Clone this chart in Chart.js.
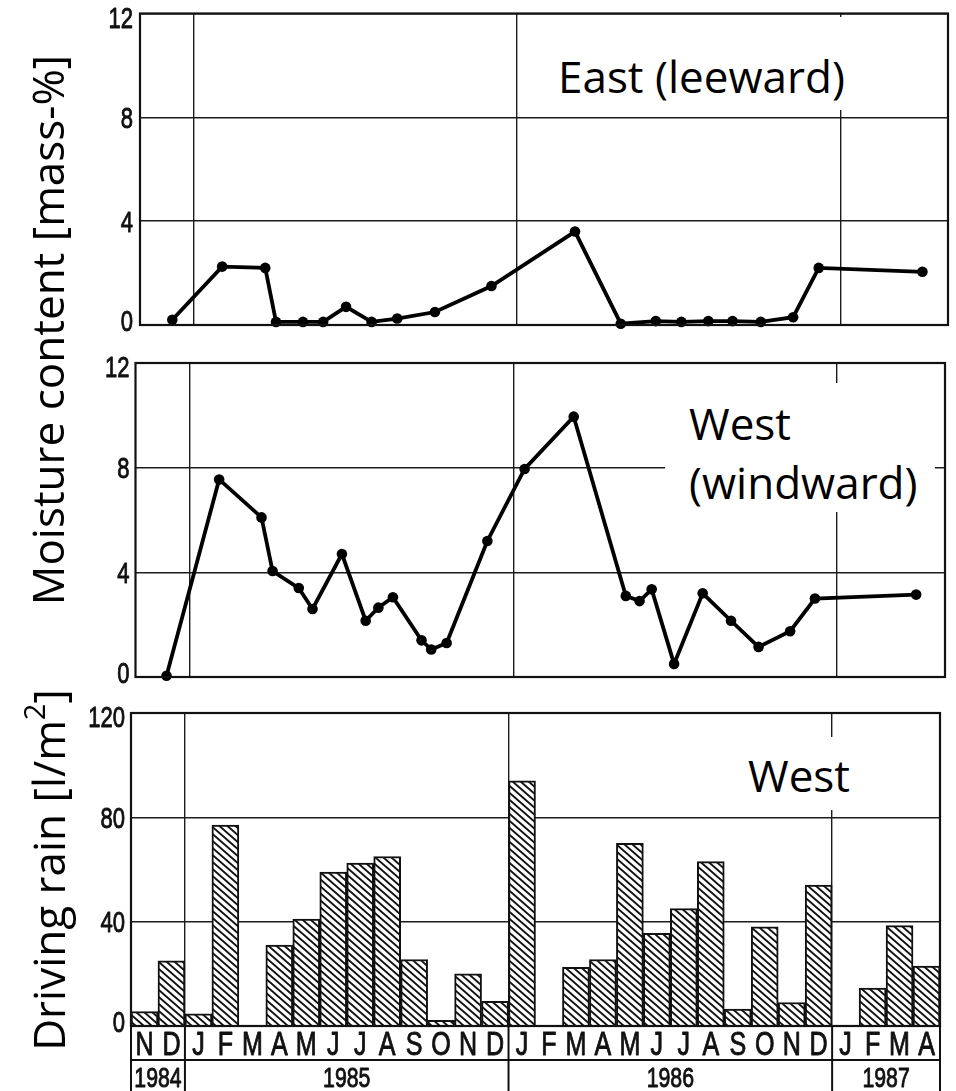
<!DOCTYPE html>
<html lang="en">
<head>
<meta charset="UTF-8" />
<title>Moisture content and driving rain</title>
<script src="https://cdn.jsdelivr.net/npm/chart.js@4/dist/chart.umd.min.js"></script>
<style>
  * { box-sizing: border-box; margin: 0; padding: 0; }
  body { background: #fff; width: 956px; height: 1091px; overflow: hidden; position: relative; }
  canvas { position: absolute; left: 0; }
  #east { top: -10px; }
  #west { top: 330px; }
  #rain { top: 690px; }
  .ytitle {
    position: absolute;
    transform: translate(-50%, -50%) rotate(-90deg);
    white-space: nowrap;
    font: 44px/1 "Open Sans", sans-serif;
    color: #000;
  }
  .ytitle sup { font-size: 29px; position: relative; top: -20px; vertical-align: 0; line-height: 0; }
  .mask { position: absolute; background: #fff; }
  .label { position: absolute; font: 44px/1 "Open Sans", sans-serif; color: #000; white-space: nowrap; }
</style>
</head>
<body>
  <canvas id="east" width="956" height="360"></canvas>
  <canvas id="west" width="956" height="370"></canvas>
  <canvas id="rain" width="956" height="401"></canvas>

  <div class="ytitle" style="left:47px; top:330px;">Moisture content [mass-%]</div>
  <div class="ytitle" style="left:48px; top:870px;">Driving rain [l/m<sup>2</sup>]</div>

  <div class="mask" style="left:545px; top:17px; width:317px; height:93px;"></div>
  <div class="label" style="left:558px; top:54px;">East (leeward)</div>

  <div class="mask" style="left:665px; top:383px; width:270px; height:129px;"></div>
  <div class="label" style="left:689px; top:394px; line-height:59px;">West<br>(windward)</div>

  <div class="mask" style="left:735px; top:737px; width:190px; height:73px;"></div>
  <div class="label" style="left:748px; top:753px;">West</div>

<script>
// months counted from 1 Nov 1984
const yearStarts = [2, 14, 26];

// East (leeward) moisture content, mass-%
const eastMonths = [1.2, 3.05, 4.65, 5.05, 6.05, 6.8, 7.65, 8.6, 9.55, 10.95, 13.05, 16.15, 17.85, 19.15, 20.1, 21.1, 22.0, 23.05, 24.25, 25.2, 29.05];
const eastValues = [0.2, 2.25, 2.2, 0.12, 0.12, 0.12, 0.7, 0.12, 0.25, 0.5, 1.5, 3.6, 0.05, 0.15, 0.12, 0.15, 0.15, 0.12, 0.3, 2.2, 2.05];

// West (windward) moisture content, mass-%
const westMonths = [1.15, 3.1, 4.67, 5.08, 6.05, 6.56, 7.65, 8.53, 9.0, 9.54, 10.6, 10.96, 11.53, 13.04, 14.42, 16.24, 18.17, 18.68, 19.13, 19.96, 21.02, 22.07, 23.09, 24.26, 25.18, 28.93];
const westValues = [0.05, 7.55, 6.1, 4.05, 3.4, 2.6, 4.7, 2.15, 2.65, 3.05, 1.4, 1.05, 1.3, 5.2, 7.95, 9.95, 3.1, 2.9, 3.35, 0.5, 3.2, 2.15, 1.15, 1.75, 3.0, 3.15];

// driving rain West, l/m2, Nov 1984 .. Apr 1987
const months = ['N','D','J','F','M','A','M','J','J','A','S','O','N','D','J','F','M','A','M','J','J','A','S','O','N','D','J','F','M','A'];
const rainValues = [5.5, 25, 4.7, 77, 0, 31, 41, 59, 62.5, 65, 25.5, 2.2, 20, 9.5, 94, 0, 22.5, 25.5, 70, 35.5, 45, 63, 6.5, 38, 9, 54, 0, 14.5, 38.5, 23];

const years = ['1984', '1985', '1986', '1987'];
const yearSpans = [[0, 2], [2, 14], [14, 26], [26, 30]];

const ink = '#111';
const gridInk = '#1c1c1c';
const labelFont = '"Liberation Sans", Arial, sans-serif';
const squeeze = 0.76; // the scan uses a narrow DIN-like face

Chart.defaults.animation = false;
Chart.defaults.color = ink;

// narrow lettering, y is the middle of the capitals
function narrowText(ctx, text, x, y, size, align) {
  ctx.save();
  ctx.font = size + 'px ' + labelFont;
  ctx.textAlign = align;
  ctx.textBaseline = 'alphabetic';
  ctx.fillStyle = ink;
  ctx.strokeStyle = ink;
  ctx.lineWidth = 0.9;
  ctx.lineJoin = 'round';
  ctx.translate(x, y + size * 0.358);
  ctx.scale(squeeze, 1);
  ctx.fillText(text, 0, 0);
  ctx.strokeText(text, 0, 0);
  ctx.restore();
}

function hatchPattern() {
  const w = 8, h = 7;
  const c = document.createElement('canvas');
  c.width = w; c.height = h;
  const g = c.getContext('2d');
  g.fillStyle = '#fff';
  g.fillRect(0, 0, w, h);
  g.strokeStyle = ink;
  g.lineWidth = 1.9;
  g.beginPath();
  [-h, 0, h].forEach(off => {
    g.moveTo(-1, off - h / w);
    g.lineTo(w + 1, off + h + h / w);
  });
  g.stroke();
  return g.createPattern(c, 'repeat');
}

// box round the plot area and the y tick numbers
const frame = {
  id: 'frame',
  afterDatasetsDraw(chart, args, opts) {
    const { ctx, chartArea: a } = chart;
    ctx.save();
    ctx.strokeStyle = ink;
    ctx.lineWidth = 2.2;
    ctx.strokeRect(a.left, a.top, a.right - a.left, a.bottom - a.top);
    ctx.restore();

    const y = chart.scales.y;
    y.ticks.forEach(t => {
      let py = y.getPixelForValue(t.value);
      if (t.value === y.max) py += 4;
      if (t.value === y.min) py -= 4;
      narrowText(ctx, String(t.value), a.left - opts.gap, py, 29, 'right');
    });
  }
};

// month and year rows under the rain chart
const calendarRows = {
  id: 'calendarRows',
  afterDraw(chart) {
    const { ctx, chartArea: a } = chart;
    const x = chart.scales.x;
    const half = (x.getPixelForValue(1) - x.getPixelForValue(0)) / 2;
    const edge = i => x.getPixelForValue(i) - half;
    const rowTop = a.bottom, yearTop = a.bottom + 34, end = chart.height;
    ctx.save();
    ctx.strokeStyle = ink;
    ctx.lineWidth = 2;
    ctx.beginPath();
    ctx.moveTo(a.left, yearTop); ctx.lineTo(a.right, yearTop);
    ctx.moveTo(a.left, rowTop); ctx.lineTo(a.left, end);
    ctx.moveTo(a.right, rowTop); ctx.lineTo(a.right, end);
    yearStarts.forEach(i => { ctx.moveTo(edge(i), rowTop); ctx.lineTo(edge(i), end); });
    ctx.stroke();
    ctx.restore();

    months.forEach((m, i) => narrowText(ctx, m, x.getPixelForValue(i), rowTop + 17.5, 33, 'center'));
    years.forEach((yr, i) => {
      const [s, e] = yearSpans[i];
      narrowText(ctx, yr, (edge(s) + edge(e)) / 2, yearTop + 17, 28, 'center');
    });
  }
};

function moistureChart(id, xs, ys, pad, axisWidth, gap) {
  return new Chart(document.getElementById(id), {
    type: 'line',
    data: {
      datasets: [{
        data: xs.map((m, i) => ({ x: m, y: ys[i] })),
        borderColor: '#000',
        borderWidth: 3.8,
        pointRadius: 5.3,
        pointBackgroundColor: '#000',
        pointBorderWidth: 0,
        tension: 0,
        clip: false
      }]
    },
    options: {
      responsive: false,
      devicePixelRatio: 1,
      layout: { padding: pad },
      plugins: { legend: { display: false }, tooltip: { enabled: false }, frame: { gap } },
      scales: {
        x: {
          type: 'linear', min: 0, max: 30,
          afterBuildTicks: s => { s.ticks = yearStarts.map(v => ({ value: v })); },
          afterFit: s => { s.height = 0; },
          ticks: { display: false },
          grid: { color: gridInk, lineWidth: 1.4, drawTicks: false },
          border: { display: false }
        },
        y: {
          min: 0, max: 12,
          afterFit: s => { s.width = axisWidth; },
          ticks: { stepSize: 4, display: false },
          grid: { color: gridInk, lineWidth: 1.4, drawTicks: false },
          border: { display: false }
        }
      }
    },
    plugins: [frame]
  });
}

moistureChart('east', eastMonths, eastValues, { top: 23.5, bottom: 25, left: 0, right: 8 }, 140, 7);
moistureChart('west', westMonths, westValues, { top: 33, bottom: 23, left: 0, right: 11 }, 135.5, 6);

new Chart(document.getElementById('rain'), {
  type: 'bar',
  data: {
    labels: months,
    datasets: [{
      data: rainValues,
      backgroundColor: hatchPattern(),
      borderColor: ink,
      borderWidth: 2,
      barPercentage: 1,
      categoryPercentage: 1
    }]
  },
  options: {
    responsive: false,
    devicePixelRatio: 1,
    layout: { padding: { top: 23, bottom: 0, left: 0, right: 16 } },
    plugins: { legend: { display: false }, tooltip: { enabled: false }, frame: { gap: 6 } },
    scales: {
      x: {
        type: 'category',
        offset: true,
        afterFit: s => { s.height = 65; },
        ticks: { display: false },
        grid: {
          offset: true,
          drawTicks: false,
          lineWidth: 1.4,
          color: c => yearStarts.includes(c.index) ? gridInk : 'rgba(0,0,0,0)'
        },
        border: { display: false }
      },
      y: {
        min: 0, max: 120,
        afterFit: s => { s.width = 131; },
        ticks: { stepSize: 40, display: false },
        grid: { color: gridInk, lineWidth: 1.4, drawTicks: false },
        border: { display: false }
      }
    }
  },
  plugins: [frame, calendarRows]
});
</script>
</body>
</html>
